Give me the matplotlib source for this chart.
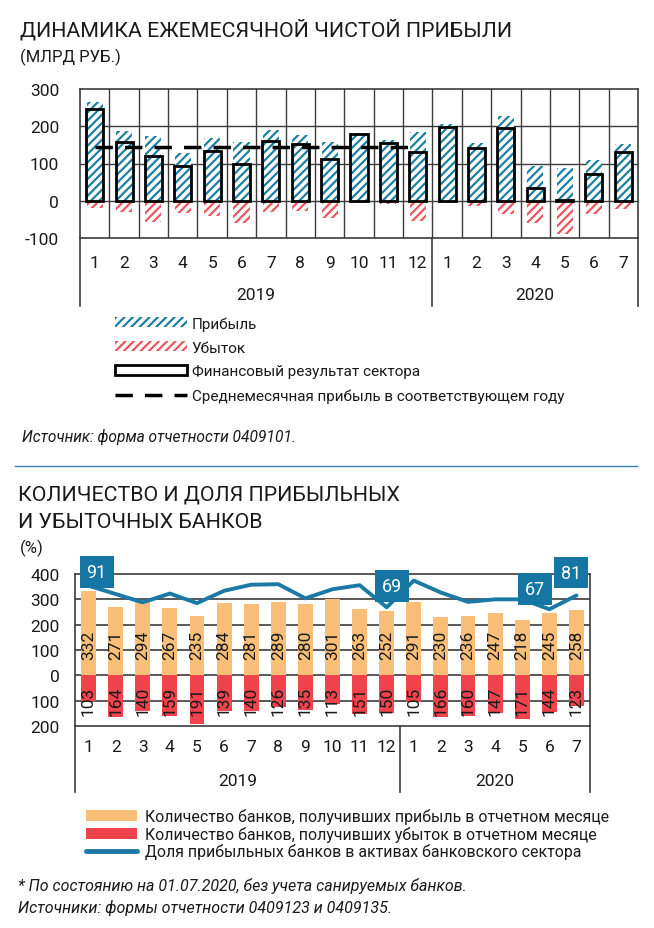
import matplotlib
matplotlib.use("Agg")
import matplotlib.pyplot as plt
from matplotlib import font_manager
from matplotlib.patches import Patch
from matplotlib.lines import Line2D
import numpy as np

# --- data ---
months = ["1", "2", "3", "4", "5", "6", "7", "8", "9", "10", "11", "12",
          "1", "2", "3", "4", "5", "6", "7"]
years = ["2019", "2020"]
months_in_year = [12, 7]

profit = [266, 186, 173, 127, 169, 159, 189, 176, 157, 182, 163, 185,
          207, 156, 228, 92, 87, 109, 153]
loss = [-20, -29, -56, -34, -40, -59, -29, -27, -45, -5, -9, -54,
        -4, -15, -36, -60, -88, -36, -22]
fin_result = [247, 158, 119, 94, 134, 100, 161, 152, 113, 179, 154, 131,
              199, 141, 194, 33, 3, 71, 132]
avg_2019 = 144

profitable_banks = [332, 271, 294, 267, 235, 284, 281, 289, 280, 301, 263, 252,
                    291, 230, 236, 247, 218, 245, 258]
loss_banks = [103, 164, 140, 159, 191, 139, 140, 126, 135, 113, 151, 150,
              105, 166, 160, 147, 171, 144, 123]
share_profitable = [91, 82.5, 74, 83, 73.2, 85.8, 92, 92.5, 78.1, 87.4, 91.5, 69,
                    96.2, 84, 74.5, 77.1, 77.1, 67, 81]
labelled_points = {0: 91, 11: 69, 17: 67, 18: 81}

# --- style ---
names = {f.name for f in font_manager.fontManager.ttflist}
main_font = "Liberation Sans Narrow" if "Liberation Sans Narrow" in names else "Roboto"
plt.rcParams["font.family"] = [main_font, "DejaVu Sans"]
plt.rcParams["hatch.linewidth"] = 1.6

TEAL = "#1f7fa3"
PINK = "#ee555e"
ORANGE = "#f9bf78"
RED = "#f0434b"
LINE_BLUE = "#1b79a6"
BOX_BLUE = "#1576a3"
GRID = "#3c3c3c"
TXT = "#1a1a1a"

W, H = 654, 929
fig = plt.figure(figsize=(W / 100, H / 100), dpi=100)

def fx(px):
    return px / W

def fy(py):
    return 1 - py / H

x = np.arange(1, len(months) + 1)

# ===== chart 1 =====
fig.text(fx(20), fy(30), "ДИНАМИКА ЕЖЕМЕСЯЧНОЙ ЧИСТОЙ ПРИБЫЛИ", fontsize=15.4,
         color=TXT, va="center", ha="left")
fig.text(fx(20), fy(57), "(МЛРД РУБ.)", fontsize=12, color=TXT, va="center", ha="left")

ax1 = fig.add_axes([fx(80), fy(239), fx(638) - fx(80), fy(90) - fy(239)])
ax1.bar(x, profit, width=0.55, color="white", edgecolor=TEAL, hatch="////", linewidth=0)
ax1.bar(x, loss, width=0.55, color="white", edgecolor=PINK, hatch="////", linewidth=0)
ax1.bar(x, fin_result, width=0.58, facecolor="none", edgecolor="black", linewidth=2)
ax1.plot([1, 12], [avg_2019, avg_2019], color="black", lw=2.5, dashes=(5, 3.5))

ax1.set_xlim(0.5, len(months) + 0.5)
ax1.set_ylim(-100, 300)
ax1.set_yticks([-100, 0, 100, 200, 300])
ax1.set_yticklabels(["-100", "0", "100", "200", "300"])
ax1.set_xticks([])
for yv in [0, 100, 200]:
    ax1.axhline(yv, color=GRID, lw=1, zorder=0)
for xv in np.arange(1.5, len(months), 1):
    ax1.axvline(xv, color=GRID, lw=1, zorder=0)
for s in ax1.spines.values():
    s.set_color(GRID)
    s.set_linewidth(1.2)
ax1.tick_params(axis="y", length=0, pad=15, labelsize=12.5, colors=TXT)

# category axis
cat_bottom1 = -(307 - 239) / 149
bounds = np.cumsum([0] + months_in_year) + 0.5
xt = ax1.get_xaxis_transform()
for b in bounds:
    ax1.plot([b, b], [0, cat_bottom1], color=GRID, lw=1.2, transform=xt, clip_on=False)
for xi, m in zip(x, months):
    ax1.text(xi, -(263 - 239) / 149, m, transform=xt, ha="center", va="center",
             fontsize=12.5, color=TXT)
for i, yr in enumerate(years):
    ax1.text((bounds[i] + bounds[i + 1]) / 2, -(296 - 239) / 149, yr, transform=xt,
             ha="center", va="center", fontsize=12.5, color=TXT)

handles1 = [
    Patch(facecolor="white", edgecolor=TEAL, hatch="////", linewidth=0),
    Patch(facecolor="white", edgecolor=PINK, hatch="////", linewidth=0),
    Patch(facecolor="white", edgecolor="black", linewidth=2),
    Line2D([0], [0], color="black", lw=2.5, dashes=(5, 3.5)),
]
labels1 = ["Прибыль", "Убыток", "Финансовый результат сектора",
           "Среднемесячная прибыль в соответствующем году"]
fig.legend(handles1, labels1, loc="upper left", bbox_to_anchor=(fx(109), fy(311)),
           frameon=False, fontsize=11, handlelength=4.7, handleheight=0.6,
           handletextpad=0.3, labelspacing=0.65, borderaxespad=0, labelcolor=TXT)

fig.text(fx(22), fy(437), "Источник: форма отчетности 0409101.", fontsize=11.2,
         style="italic", color=TXT, va="center")
fig.add_artist(Line2D([fx(15), fx(637)], [fy(467), fy(467)], color="#3b7fb8", lw=1))

# ===== chart 2 =====
fig.text(fx(18), fy(495), "КОЛИЧЕСТВО И ДОЛЯ ПРИБЫЛЬНЫХ", fontsize=15.4, color=TXT,
         va="center")
fig.text(fx(18), fy(522), "И УБЫТОЧНЫХ БАНКОВ", fontsize=15.4, color=TXT, va="center")
fig.text(fx(20), fy(548), "(%)", fontsize=12, color=TXT, va="center")

ax2 = fig.add_axes([fx(75), fy(727), fx(590) - fx(75), fy(575) - fy(727)])
ax2.bar(x, profitable_banks, width=0.55, color=ORANGE, zorder=2)
ax2.bar(x, [-v for v in loss_banks], width=0.55, color=RED, zorder=2)
for xi, pv, lv in zip(x, profitable_banks, loss_banks):
    ax2.text(xi, 122, str(pv), rotation=90, ha="center", va="center", fontsize=12.5,
             color=TXT, zorder=4)
    ax2.text(xi, -100, str(lv), rotation=90, ha="center", va="center", fontsize=12.5,
             color=TXT, zorder=4)
ax2.set_xlim(0.5, len(months) + 0.5)
ax2.set_ylim(-200, 400)
ax2.set_yticks([-200, -100, 0, 100, 200, 300, 400])
ax2.set_yticklabels(["200", "100", "0", "100", "200", "300", "400"])
ax2.set_xticks([])
for yv in [-100, 0, 100, 200, 300]:
    ax2.axhline(yv, color=GRID, lw=1.2, zorder=1)
for s in ax2.spines.values():
    s.set_color(GRID)
    s.set_linewidth(1.2)
ax2.tick_params(axis="y", length=0, pad=11, labelsize=12.5, colors=TXT)

ax3 = ax2.twinx()
ax3.set_ylim(-51.9, 102.9)
ax3.plot(x, share_profitable, color=LINE_BLUE, lw=2.8, solid_joinstyle="round",
         solid_capstyle="round", zorder=3)
ax3.set_yticks([])
for s in ax3.spines.values():
    s.set_visible(False)
offsets = {0: (8, 14), 11: (5, 21), 17: (-14, 20), 18: (-5, 23)}
for i, v in labelled_points.items():
    ax3.annotate(str(v), (x[i], share_profitable[i]), xytext=offsets[i],
                 textcoords="offset pixels", ha="center", va="center", color="white",
                 fontsize=13, annotation_clip=False,
                 bbox=dict(boxstyle="square,pad=0.38", fc=BOX_BLUE, ec="none"))

cat_bottom2 = -(793 - 727) / 152
xt2 = ax2.get_xaxis_transform()
for b in bounds:
    ax2.plot([b, b], [0, cat_bottom2], color=GRID, lw=1.2, transform=xt2, clip_on=False)
for xi, m in zip(x, months):
    ax2.text(xi, -(748 - 727) / 152, m, transform=xt2, ha="center", va="center",
             fontsize=12.5, color=TXT)
for i, yr in enumerate(years):
    ax2.text((bounds[i] + bounds[i + 1]) / 2, -(782 - 727) / 152, yr, transform=xt2,
             ha="center", va="center", fontsize=12.5, color=TXT)

handles2 = [
    Patch(facecolor=ORANGE, edgecolor="none"),
    Patch(facecolor=RED, edgecolor="none"),
    Line2D([0], [0], color=LINE_BLUE, lw=3.5, solid_capstyle="round"),
]
labels2 = ["Количество банков, получивших прибыль в отчетном месяце",
           "Количество банков, получивших убыток в отчетном месяце",
           "Доля прибыльных банков в активах банковского сектора"]
fig.legend(handles2, labels2, loc="upper left", bbox_to_anchor=(fx(80), fy(803)),
           frameon=False, fontsize=11.4, handlelength=3.2, handleheight=0.65,
           handletextpad=0.5, labelspacing=0.1, borderaxespad=0, labelcolor=TXT)

fig.text(fx(18), fy(886), "* По состоянию на 01.07.2020, без учета санируемых банков.",
         fontsize=11.5, style="italic", color=TXT, va="center")
fig.text(fx(18), fy(908), "Источники: формы отчетности 0409123 и 0409135.",
         fontsize=11.5, style="italic", color=TXT, va="center")

fig.savefig("out.png", dpi=100)
